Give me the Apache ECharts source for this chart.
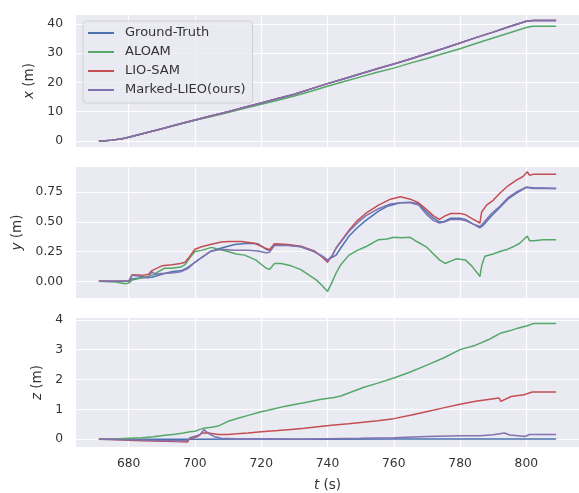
<!DOCTYPE html>
<html><head><meta charset="utf-8">
<script src="https://cdn.jsdelivr.net/npm/echarts@6/dist/echarts.min.js"></script>
<style>html,body{margin:0;padding:0;background:#fff}#c{width:579px;height:493px}</style>
</head><body><div id="c"></div>
<script>
// ---------- data ----------
const seriesNames = ['Ground-Truth', 'ALOAM', 'LIO-SAM', 'Marked-LIEO(ours)'];
const tTicks = [680, 700, 720, 740, 760, 780, 800];
const xTicks = [0, 10, 20, 30, 40];
const yTicks = [0, 0.25, 0.5, 0.75];
const zTicks = [0, 1, 2, 3, 4];

// x (m)
const tX = [671,673,675,678,680,685,690,695,700,705,710,715,720,725,730,735,740,745,750,755,760,765,770,775,780,785,790,795,800,802,809];
const xGT  = [0,0.05,0.3,0.8,1.3,2.7,4.2,5.7,7.2,8.6,10.0,11.5,13.0,14.5,16.0,17.8,19.6,21.3,23.0,24.7,26.3,28.0,29.8,31.6,33.5,35.4,37.2,39.1,40.9,41.2,41.2];
const xAL  = [0,0.05,0.3,0.8,1.3,2.7,4.15,5.6,7.05,8.4,9.75,11.15,12.55,13.95,15.35,17.0,18.7,20.3,21.9,23.5,24.9,26.6,28.2,29.9,31.5,33.4,35.2,37.0,38.8,39.2,39.2];
const xLIO = [0,0.05,0.3,0.8,1.3,2.7,4.2,5.7,7.2,8.6,10.0,11.5,13.0,14.5,16.0,17.8,19.6,21.3,23.0,24.7,26.3,28.0,29.8,31.6,33.5,35.4,37.2,39.1,40.9,41.2,41.2];
const xLIEO= [0,0.05,0.3,0.8,1.3,2.7,4.2,5.7,7.2,8.6,10.0,11.5,13.0,14.5,16.0,17.8,19.6,21.3,23.0,24.7,26.3,28.0,29.8,31.6,33.5,35.4,37.2,39.1,40.9,41.2,41.2];

// y (m)
const tYgt = [671,676,680,681,684,687,690,693,696,698,700,702,704.6,708,712,716,719,721.5,722.5,724,728,732,736,738.5,740,742.6,744,746.5,749,751.5,755.4,758,762,765,767.5,770,772,773.8,775,777.2,780,781.6,784,786,787,789.5,792,794.4,797,800,802,809];
const yGT  = [0,0,0,0.02,0.03,0.035,0.06,0.08,0.09,0.12,0.16,0.2,0.25,0.28,0.31,0.32,0.315,0.27,0.26,0.31,0.305,0.29,0.25,0.21,0.18,0.22,0.28,0.38,0.45,0.51,0.59,0.63,0.66,0.665,0.65,0.58,0.53,0.50,0.50,0.53,0.53,0.52,0.48,0.45,0.47,0.55,0.62,0.69,0.74,0.79,0.785,0.78];
const tYal = [671,676,679,680,681,684,687,690.8,693,695.7,697,698.5,700,702,705,707,710,712.4,715,718.3,721.5,722.5,724,726,729,731.8,734,736.7,738.5,740,741,742.6,744,746.5,749,751.5,753.5,755.4,758,760,762.3,764.9,767.2,769.8,772,773.8,775.5,777.2,779,781.6,783.5,785.5,786,786.6,787.5,790,792,794.4,796,798,799.5,800.3,801,802.3,805,809];
const yAL  = [0,-0.005,-0.02,-0.015,0.01,0.03,0.05,0.11,0.11,0.12,0.14,0.2,0.25,0.26,0.285,0.27,0.25,0.23,0.22,0.18,0.11,0.10,0.15,0.15,0.13,0.10,0.06,0.01,-0.04,-0.085,-0.03,0.07,0.14,0.22,0.26,0.29,0.32,0.35,0.355,0.37,0.365,0.37,0.33,0.29,0.23,0.18,0.15,0.17,0.19,0.18,0.13,0.06,0.04,0.14,0.21,0.23,0.25,0.27,0.29,0.32,0.36,0.38,0.34,0.34,0.35,0.35];
const tYlio = [671,680,681,684,686,687,690,693,695.7,697,698.2,700,702,704.6,708,710,714,718,721.5,722.5,724,728,732,736,738.5,740,741.5,742.6,746.5,749,751.5,755.4,759,762,765,767.5,770,772,773.8,775.5,777.2,780,781.6,784,786,786.5,788,790,792,794.4,797,799,800.3,801,802.3,809];
const yLIO  = [0,0,0.055,0.05,0.06,0.09,0.13,0.14,0.15,0.16,0.2,0.27,0.29,0.31,0.33,0.335,0.335,0.32,0.275,0.265,0.315,0.31,0.295,0.255,0.2,0.16,0.22,0.28,0.43,0.51,0.57,0.64,0.69,0.71,0.69,0.66,0.6,0.55,0.52,0.55,0.57,0.57,0.56,0.52,0.49,0.58,0.64,0.68,0.74,0.80,0.85,0.88,0.92,0.89,0.9,0.9];
const tYlieo = [671,680,681,684,686,687,688,690,693,695.7,698,700,702,704.6,708,712,716,719,721.5,722.5,724,728,732,736,738.5,740,741.5,742.6,746.5,749,751.5,755.4,759,762,765,767.5,770,772,773.8,775.5,777.2,780,781.6,784,786,787,789.5,792,794.4,797,800,802,809];
const yLIEO  = [0,0,0.05,0.04,0.03,0.08,0.06,0.065,0.07,0.08,0.11,0.16,0.2,0.25,0.27,0.26,0.26,0.255,0.24,0.245,0.30,0.30,0.29,0.25,0.21,0.17,0.22,0.28,0.42,0.49,0.55,0.61,0.65,0.66,0.66,0.64,0.56,0.51,0.49,0.50,0.52,0.52,0.51,0.48,0.46,0.49,0.57,0.63,0.70,0.75,0.79,0.78,0.78];

// z (m)
const tZgt = [671,700,720,740,760,780,800,809];
const zGT  = [0,0,0.005,0,0.005,0.005,0.005,0.005];
const tZal = [671,676,680,684,687.4,691,694,696.5,698.5,700,701.5,703,705,707,710,713,715.8,720,724,727,730,733,737.7,742,744,746.4,750.8,755.2,760,765,770,775,780,784.7,788.5,790.5,792.4,795,797.4,800.3,802.3,809];
const zAL  = [0,0.01,0.03,0.05,0.08,0.13,0.17,0.21,0.25,0.27,0.33,0.38,0.40,0.44,0.6,0.7,0.79,0.92,1.02,1.1,1.16,1.22,1.33,1.4,1.45,1.55,1.73,1.88,2.05,2.25,2.48,2.72,3.0,3.15,3.33,3.45,3.56,3.63,3.72,3.8,3.88,3.88];
const tZlio = [671,675,680,684,687.4,691,694,697.8,698.2,699.5,701,702,703.8,705,707,710,712.6,716,720,725,729,733,737.7,742,746.4,750.8,755.2,760,765,769.8,775,780,784.7,788.5,791.8,792.3,795.4,799.3,801.8,809];
const zLIO  = [0,-0.01,-0.03,-0.05,-0.06,-0.07,-0.08,-0.09,0.0,0.05,0.1,0.2,0.22,0.19,0.16,0.16,0.18,0.21,0.25,0.29,0.33,0.37,0.43,0.48,0.52,0.57,0.62,0.69,0.8,0.92,1.05,1.17,1.27,1.33,1.38,1.27,1.43,1.49,1.58,1.58];
const tZlieo = [671,680,688,695,697.8,698.5,700,701.5,702.7,704,706,708,712,720,730,740,750,760,770,780,786,790,793.4,795,797.5,799.5,801,809];
const zLIEO  = [0,-0.02,-0.04,-0.05,-0.05,0.05,0.1,0.15,0.32,0.2,0.08,0.03,0.02,0.01,0.0,0.02,0.03,0.05,0.09,0.12,0.12,0.15,0.21,0.14,0.12,0.09,0.16,0.16];

// ---------- chart ----------
const colors = ['#4C72B0', '#55A868', '#C44E52', '#8172B2'];
const FONT = 'DejaVu Sans';
const TXT = '#333333';
const zip = (t, v) => t.map((ti, i) => [ti, v[i]]);

const panels = [
  {top: 15, height: 132, min: -2.05, max: 43.05, ticks: xTicks, name: '{i|x} (m)', gap: 28, fmt: v => String(v),
   data: [zip(tX, xGT), zip(tX, xAL), zip(tX, xLIO), zip(tX, xLIEO)]},
  {top: 167, height: 131, min: -0.14, max: 0.96, ticks: yTicks, name: '{i|y} (m)', gap: 41, fmt: v => v.toFixed(2),
   data: [zip(tYgt, yGT), zip(tYal, yAL), zip(tYlio, yLIO), zip(tYlieo, yLIEO)]},
  {top: 318, height: 131, min: -0.26, max: 4.06, ticks: zTicks, name: '{i|z} (m)', gap: 21, fmt: v => String(v),
   data: [zip(tZgt, zGT), zip(tZal, zAL), zip(tZlio, zLIO), zip(tZlieo, zLIEO)]}
];

const grids = [], xAxes = [], yAxes = [], series = [];
panels.forEach((p, i) => {
  grids.push({left: 76, right: -11, top: p.top, height: p.height, show: true,
    backgroundColor: '#EAEAF2', borderWidth: 0});
  xAxes.push({
    type: 'value', gridIndex: i, min: 664.1, max: 815.9,
    axisLine: {show: false},
    axisTick: {show: false, customValues: tTicks},
    axisLabel: {show: i === 2, customValues: tTicks, margin: 11,
      color: TXT, fontSize: 12.3, fontFamily: FONT},
    splitLine: {show: true, lineStyle: {color: '#ffffff', width: 1.2}},
    name: i === 2 ? '{i|t} (s)' : '',
    nameLocation: 'middle', nameGap: 31,
    nameTextStyle: {color: TXT, fontSize: 13.5, fontFamily: FONT,
      rich: {i: {fontStyle: 'italic', color: TXT, fontSize: 13.5, fontFamily: FONT}}}
  });
  yAxes.push({
    type: 'value', gridIndex: i, min: p.min, max: p.max,
    axisLine: {show: false},
    axisTick: {show: false, customValues: p.ticks},
    axisLabel: {customValues: p.ticks, margin: 13, formatter: p.fmt,
      color: TXT, fontSize: 12.3, fontFamily: FONT},
    splitLine: {show: true, lineStyle: {color: '#ffffff', width: 1.2}},
    name: p.name, nameLocation: 'middle', nameRotate: 90, nameGap: p.gap,
    nameTextStyle: {color: TXT, fontSize: 13.5, fontFamily: FONT,
      rich: {i: {fontStyle: 'italic', color: TXT, fontSize: 13.5, fontFamily: FONT}}}
  });
  p.data.forEach((d, k) => {
    series.push({
      type: 'line', name: seriesNames[k], xAxisIndex: i, yAxisIndex: i,
      data: d, showSymbol: false, symbol: 'none', clip: true,
      lineStyle: {color: colors[k], width: 1.5}, itemStyle: {color: colors[k]},
      z: 2 + k
    });
  });
});

const chart = echarts.init(document.getElementById('c'), null, {renderer: 'canvas'});
chart.setOption({
  animation: false,
  backgroundColor: '#ffffff',
  grid: grids, xAxis: xAxes, yAxis: yAxes, series: series,
  legend: {
    data: seriesNames, orient: 'vertical', left: 83, top: 21,
    icon: 'rect', itemWidth: 26, itemHeight: 2, itemGap: 5,
    padding: [5, 7, 6, 5],
    backgroundColor: 'rgba(234,234,242,0.8)', borderColor: '#d0d0d4', borderWidth: 1, borderRadius: 3,
    textStyle: {color: TXT, fontSize: 13, fontFamily: FONT, lineHeight: 14, padding: [0, 0, 0, 6]},
    selectedMode: false
  }
});
</script></body></html>
